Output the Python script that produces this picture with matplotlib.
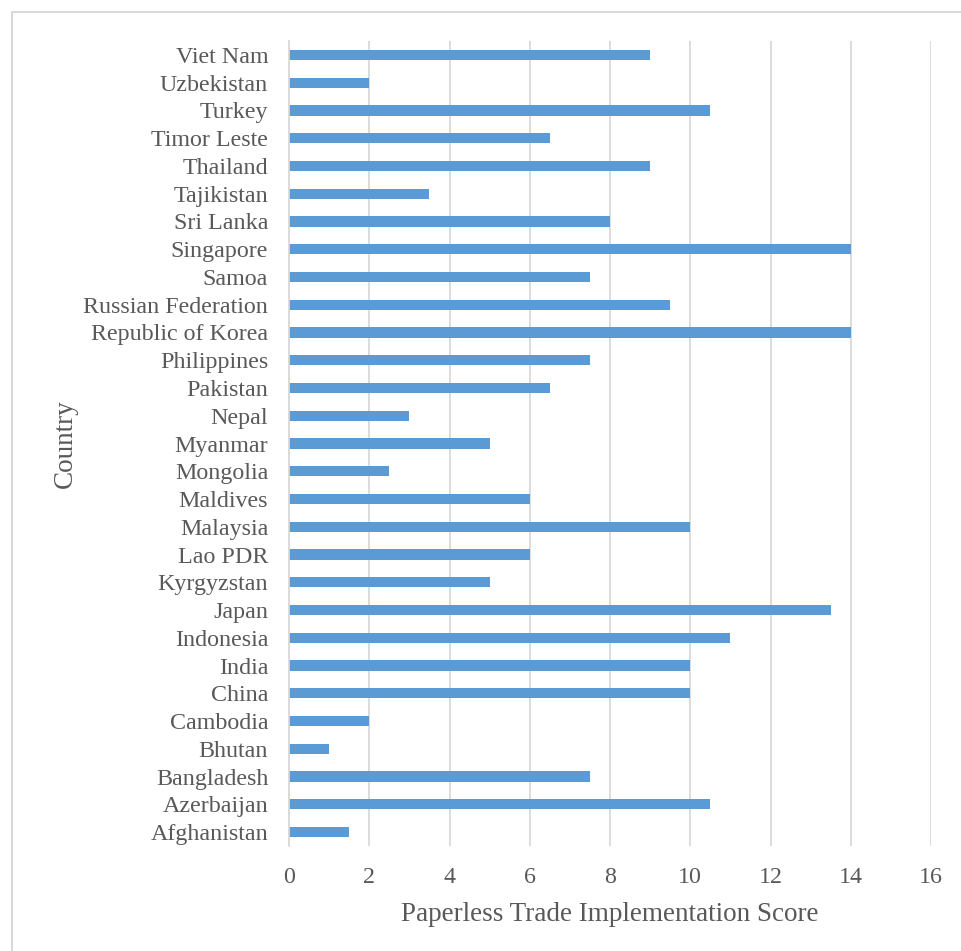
import matplotlib.pyplot as plt
from matplotlib.patches import Rectangle

plt.rcParams['font.family'] = ['Liberation Serif', 'DejaVu Serif']

countries = ['Afghanistan', 'Azerbaijan', 'Bangladesh', 'Bhutan', 'Cambodia',
             'China', 'India', 'Indonesia', 'Japan', 'Kyrgyzstan', 'Lao PDR',
             'Malaysia', 'Maldives', 'Mongolia', 'Myanmar', 'Nepal', 'Pakistan',
             'Philippines', 'Republic of Korea', 'Russian Federation', 'Samoa',
             'Singapore', 'Sri Lanka', 'Tajikistan', 'Thailand', 'Timor Leste',
             'Turkey', 'Uzbekistan', 'Viet Nam']
scores = [1.5, 10.5, 7.5, 1, 2,
          10, 10, 11, 13.5, 5, 6,
          10, 6, 2.5, 5, 3, 6.5,
          7.5, 14, 9.5, 7.5,
          14, 8, 3.5, 9, 6.5,
          10.5, 2, 9]
xticks = [0, 2, 4, 6, 8, 10, 12, 14, 16]

text_col = '#595959'
grid_col = '#D9D9D9'

fig = plt.figure(figsize=(9.61, 9.51), dpi=100)
# outer chart border
fig.patches.append(Rectangle((12 / 961, -0.01), 1.0, 1 - 12 / 951 + 0.01,
                             transform=fig.transFigure, fill=False,
                             edgecolor=grid_col, linewidth=1.5))

ax = fig.add_axes([289 / 961, 1 - 846 / 951, (931 - 289) / 961, (846 - 41) / 951])
y = range(len(countries))
ax.barh(y, scores, height=0.37, color='#5B9BD5', zorder=3)

ax.set_xlim(0, 16)
ax.set_ylim(-0.5, len(countries) - 0.5)
ax.set_xticks(xticks)
ax.set_yticks(list(y))
ax.set_yticklabels(countries)
ax.grid(axis='x', color=grid_col, linewidth=1.3, zorder=0)
for s in ['top', 'right', 'bottom']:
    ax.spines[s].set_visible(False)
ax.spines['left'].set_color(grid_col)
ax.spines['left'].set_linewidth(1.3)
ax.spines['left'].set_zorder(4)
ax.tick_params(length=0, labelsize=17.3, labelcolor=text_col)
ax.tick_params(axis='x', pad=15)
ax.tick_params(axis='y', pad=15)

ax.set_xlabel('Paperless Trade Implementation Score', fontsize=19.5,
              color=text_col)
ax.xaxis.set_label_coords(0.5, -0.069)
ax.set_ylabel('Country', fontsize=19.5, color=text_col)
ax.yaxis.set_label_coords(-0.329, 0.5)

fig.savefig('out.png', dpi=100)
